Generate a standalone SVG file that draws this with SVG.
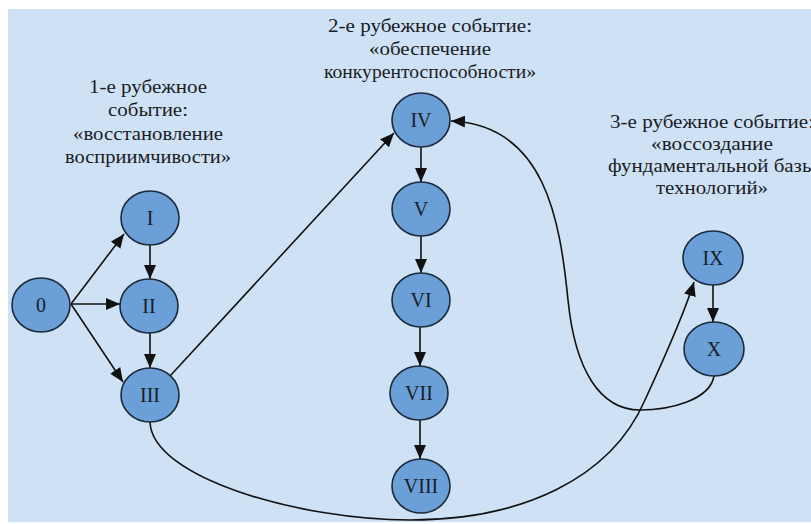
<svg xmlns="http://www.w3.org/2000/svg" width="811" height="524" viewBox="0 0 811 524">
<style>
.node ellipse{fill:#6a9fd8;stroke:#1c2a3a;stroke-width:1.6}
.node text{font-family:"Liberation Serif","Times New Roman",serif;font-size:20px;fill:#1a1d26;text-anchor:middle}
.title{font-family:"Liberation Serif","Times New Roman","DejaVu Serif","Noto Serif","FreeSerif","Tinos",serif;font-size:19px;fill:#1a1d26;text-anchor:middle}
.edge{fill:none;stroke:#111;stroke-width:1.6}
</style>
<defs>
<marker id="arr" markerUnits="userSpaceOnUse" markerWidth="14" markerHeight="12" viewBox="0 0 14 12" refX="14" refY="6" orient="auto">
<path d="M0,0 L14,6 L0,12 Z" fill="#111"/>
</marker>
</defs>
<rect x="8" y="9" width="803" height="513" fill="#cfe1f5"/>

<g id="labels">
<text class="title" x="148" y="93" textLength="118" lengthAdjust="spacingAndGlyphs" xml:lang="ru">1-е рубежное</text>
<text class="title" x="148" y="116" textLength="80" lengthAdjust="spacingAndGlyphs" xml:lang="ru">событие:</text>
<text class="title" x="148" y="140" textLength="150" lengthAdjust="spacingAndGlyphs" xml:lang="ru">«восстановление</text>
<text class="title" x="148" y="163" textLength="166" lengthAdjust="spacingAndGlyphs" xml:lang="ru">восприимчивости»</text>
<text class="title" x="430" y="32" textLength="204" lengthAdjust="spacingAndGlyphs" xml:lang="ru">2-е рубежное событие:</text>
<text class="title" x="430" y="55" textLength="122" lengthAdjust="spacingAndGlyphs" xml:lang="ru">«обеспечение</text>
<text class="title" x="430" y="78" textLength="212" lengthAdjust="spacingAndGlyphs" xml:lang="ru">конкурентоспособности»</text>
<text class="title" x="712" y="128" textLength="204" lengthAdjust="spacingAndGlyphs" xml:lang="ru">3-е рубежное событие:</text>
<text class="title" x="712" y="150" textLength="122" lengthAdjust="spacingAndGlyphs" xml:lang="ru">«воссоздание</text>
<text class="title" x="712" y="172" textLength="208" lengthAdjust="spacingAndGlyphs" xml:lang="ru">фундаментальной базы</text>
<text class="title" x="712" y="194" textLength="112" lengthAdjust="spacingAndGlyphs" xml:lang="ru">технологий»</text>
</g>

<g id="connectors">
<line class="edge" x1="71" y1="304" x2="124" y2="234" marker-end="url(#arr)"/>
<line class="edge" x1="71" y1="304" x2="120" y2="304" marker-end="url(#arr)"/>
<line class="edge" x1="71" y1="304" x2="123" y2="382" marker-end="url(#arr)"/>
<line class="edge" x1="150" y1="245" x2="150" y2="279" marker-end="url(#arr)"/>
<line class="edge" x1="150" y1="333" x2="150" y2="368" marker-end="url(#arr)"/>
<line class="edge" x1="170" y1="376" x2="394" y2="133" marker-end="url(#arr)"/>
<line class="edge" x1="421" y1="147" x2="421" y2="182" marker-end="url(#arr)"/>
<line class="edge" x1="421" y1="236" x2="421" y2="273" marker-end="url(#arr)"/>
<line class="edge" x1="420" y1="327" x2="420" y2="366" marker-end="url(#arr)"/>
<line class="edge" x1="420" y1="420" x2="420" y2="459" marker-end="url(#arr)"/>
<line class="edge" x1="713" y1="285" x2="713" y2="322" marker-end="url(#arr)"/>
<path class="edge" d="M150,422 C152,478 300,520 410,520 C520,520 610,480 645,400 C668,350 686,308 694,282" marker-end="url(#arr)"/>
<path class="edge" d="M714,376 C710,400 670,410 640,410 C600,410 575,370 568,300 C560,220 545,125 451,121" marker-end="url(#arr)"/>
</g>

<g id="n0" class="node"><ellipse cx="41" cy="305" rx="29" ry="27"/><text x="41" y="312">0</text></g>
<g id="nI" class="node"><ellipse cx="150" cy="218" rx="29" ry="27"/><text x="150" y="225">I</text></g>
<g id="nII" class="node"><ellipse cx="149" cy="306" rx="29" ry="27"/><text x="149" y="313">II</text></g>
<g id="nIII" class="node"><ellipse cx="150" cy="395" rx="29" ry="27"/><text x="150" y="402">III</text></g>
<g id="nIV" class="node"><ellipse cx="421" cy="120" rx="29" ry="27"/><text x="421" y="127">IV</text></g>
<g id="nV" class="node"><ellipse cx="421" cy="209" rx="29" ry="27"/><text x="421" y="216">V</text></g>
<g id="nVI" class="node"><ellipse cx="421" cy="300" rx="29" ry="27"/><text x="421" y="307">VI</text></g>
<g id="nVII" class="node"><ellipse cx="419" cy="393" rx="29" ry="27"/><text x="419" y="400">VII</text></g>
<g id="nVIII" class="node"><ellipse cx="421" cy="486" rx="29" ry="27"/><text x="421" y="493">VIII</text></g>
<g id="nIX" class="node"><ellipse cx="713" cy="258" rx="30" ry="27"/><text x="713" y="265">IX</text></g>
<g id="nX" class="node"><ellipse cx="714" cy="349" rx="30" ry="27"/><text x="714" y="356">X</text></g>
</svg>
